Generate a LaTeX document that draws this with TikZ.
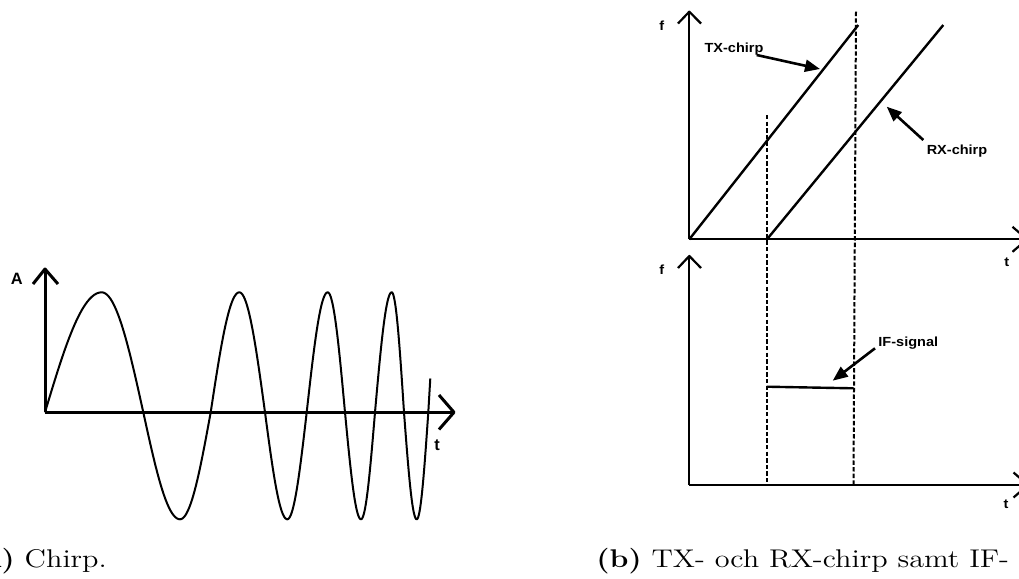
\documentclass[tikz,border=0pt]{standalone}
\usepackage{graphicx}
\usepackage{fontspec}
\usetikzlibrary{arrows.meta}
\newfontfamily\labfont{Liberation Sans}
\newcommand\capt[1]{\scalebox{1.18}[1]{\fontsize{12.8}{15}\selectfont #1}}
\newcommand\lbl[1]{\scalebox{1.1}[1]{\labfont\bfseries\fontsize{6.6}{7}\selectfont #1}}
\newcommand\biglbl[1]{{\labfont\bfseries\fontsize{8.2}{9}\selectfont #1}}
\begin{document}
\begin{tikzpicture}[x=0.5pt,y=-0.5pt,
  axisL/.style={line width=1.5pt, line join=round},
  axisR/.style={line width=1.1pt, line join=round},
  wave/.style={line width=1pt, line join=round},
  chirpline/.style={line width=1.2pt},
  dashline/.style={line width=1pt, dash pattern=on 2.2pt off 1.1pt},
  ptr/.style={line width=1.3pt, -{Triangle[length=7.5pt,width=6pt]}},
  lab/.style={inner sep=0pt, anchor=base}]
\useasboundingbox (0,0) rectangle (1019,579);
\clip (0,0) rectangle (1019,579);

% ---------- (a) chirp ----------
\coordinate (oA) at (45,412.3);
\coordinate (yA) at (45,269);
\coordinate (xA) at (454,412.3);
\draw[axisL] (oA) -- (yA);
\draw[axisL] (33,284) -- (yA) -- (58,284);
\draw[axisL] (oA) -- (xA);
\draw[axisL] (439,395) -- (xA) -- (439,429.5);
\node[lab] (Alab) at (16.7,284) {\biglbl{A}};
\node[lab] (tA) at (437,450) {\biglbl{t}};

\draw[wave] (oA)
  \foreach \xa/\xb/\amp/\ph in {45/101.7/120/0, 101.7/143.3/120/90,
     143.3/180/-107/0, 180/210.7/-107/90, 210.7/239.3/120/0, 239.3/265/120/90,
     265/287.3/-107/0, 287.3/306.7/-107/90, 306.7/327.7/120/0, 327.7/345/120/90,
     345/361/-107/0, 361/375/-107/90, 375/391.7/120/0, 391.7/404/120/90,
     404/416.7/-107/0, 416.7/428.3/-107/90}
  { -- plot[domain=\xa:\xb, samples=24] (\x,{412.3-(\amp)*sin(\ph+90*(\x-\xa)/(\xb-\xa))}) }
  -- plot[domain=428.3:430.3, samples=5] (\x,{412.3-120*sin(90*(\x-428.3)/11)});

\node[lab, anchor=base west] (capa) at (-28.5,567.5) {\capt{\textbf{(a)} Chirp.}};

% ---------- (b) TX/RX chirps ----------
\coordinate (oU) at (689.3,239.3);
\coordinate (yU) at (689.3,11.7);
\coordinate (xU) at (1027,239.3);
\draw[axisR] (oU) -- (yU);
\draw[axisR] (678,23.5) -- (yU) -- (701,23.5);
\draw[axisR] (oU) -- (xU);
\draw[axisR] (1012.5,226.8) -- (xU) -- (1012.5,251.8);

\coordinate (oL) at (689.3,485);
\coordinate (yL) at (689.3,256);
\coordinate (xL) at (1028,485);
\draw[axisR] (oL) -- (yL);
\draw[axisR] (678,268) -- (yL) -- (701,268);
\draw[axisR] (oL) -- (xL);
\draw[axisR] (1013.5,472.5) -- (xL) -- (1013.5,497.5);

\node[lab] (fU) at (661.7,30) {\lbl{f}};
\node[lab] (fL) at (661.7,274) {\lbl{f}};
\node[lab] (tU) at (1006.7,266) {\lbl{t}};
\node[lab] (tL) at (1006,508.7) {\lbl{t}};

\coordinate (txe) at (858.3,25);
\coordinate (rxs) at (767,239.3);
\coordinate (rxe) at (943.3,25);
\draw[chirpline] (oU) -- (txe);
\draw[chirpline] (rxs) -- (rxe);

\coordinate (d1t) at (766.7,115);
\coordinate (d1b) at (766.7,485);
\coordinate (d2t) at (856,11.7);
\coordinate (d2b) at (853.5,485);
\draw[dashline] (d1t) -- (d1b);
\draw[dashline] (d2t) -- (d2b);

\coordinate (ifs) at (766.7,386.7);
\coordinate (ife) at (853.5,388.3);
\draw[chirpline] (ifs) -- (ife);

\node[lab] (txl) at (734,52.7) {\lbl{TX-chirp}};
\node[lab] (rxl) at (957,154) {\lbl{RX-chirp}};
\node[lab] (ifl) at (908.3,346) {\lbl{IF-signal}};

\coordinate (txa) at (756.7,55);
\coordinate (txb) at (820,69);
\coordinate (rxa) at (923.3,140);
\coordinate (rxb) at (886.7,106.7);
\coordinate (ifa) at (875,348.3);
\coordinate (ifb) at (832.7,380.7);
\draw[ptr] (txa) -- (txb);
\draw[ptr] (rxa) -- (rxb);
\draw[ptr] (ifa) -- (ifb);

\node[lab, anchor=base west] (capb) at (596,567.5) {\capt{\textbf{(b)} TX- och RX-chirp samt IF-}};
\end{tikzpicture}
\end{document}
